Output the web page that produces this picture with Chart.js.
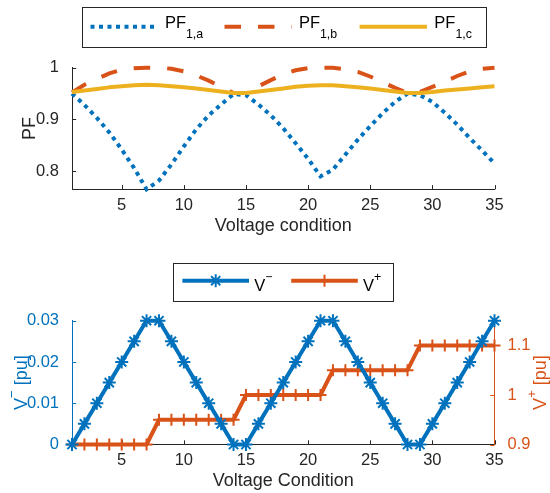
<!DOCTYPE html>
<html>
<head>
<meta charset="utf-8">
<script src="https://cdn.jsdelivr.net/npm/chart.js@4/dist/chart.umd.min.js"></script>
<style>
  body { margin: 0; background: #fff; }
  #wrap { position: relative; width: 550px; height: 493px; }
  #wrap canvas { position: absolute; left: 0; }
  #pfChart { top: 0; }
  #vChart { top: 250px; }
</style>
</head>
<body>
<div id="wrap">
  <canvas id="pfChart" width="550" height="250"></canvas>
  <canvas id="vChart" width="550" height="243"></canvas>
</div>
<script>
// voltage conditions 1..35
const conditions = [1, 2, 3, 4, 5, 6, 7, 8, 9, 10, 11, 12, 13, 14, 15, 16, 17, 18,
  19, 20, 21, 22, 23, 24, 25, 26, 27, 28, 29, 30, 31, 32, 33, 34, 35];

// power factor per phase
const pfA = [0.950, 0.928, 0.903, 0.875, 0.842, 0.806, 0.765, 0.782, 0.813, 0.848,
  0.881, 0.908, 0.929, 0.949, 0.947, 0.929, 0.908, 0.883, 0.854, 0.824, 0.790,
  0.803, 0.832, 0.861, 0.887, 0.912, 0.934, 0.950, 0.947, 0.934, 0.913, 0.890,
  0.864, 0.840, 0.815];
const pfB = [0.952, 0.967, 0.978, 0.989, 0.996, 0.999, 1.000, 1.000, 0.998, 0.993,
  0.985, 0.975, 0.963, 0.951, 0.951, 0.964, 0.976, 0.987, 0.995, 0.999, 1.000,
  1.000, 0.997, 0.992, 0.983, 0.972, 0.961, 0.951, 0.953, 0.963, 0.973, 0.984,
  0.993, 0.998, 1.000];
const pfC = [0.953, 0.956, 0.959, 0.962, 0.964, 0.966, 0.967, 0.966, 0.964, 0.962,
  0.960, 0.957, 0.954, 0.951, 0.951, 0.954, 0.957, 0.960, 0.963, 0.965, 0.966,
  0.966, 0.964, 0.962, 0.960, 0.957, 0.954, 0.951, 0.951, 0.953, 0.956, 0.958,
  0.960, 0.962, 0.964];

// negative / positive sequence voltage [pu]
const vNeg = [0, 0.005, 0.01, 0.015, 0.02, 0.025, 0.03, 0.03, 0.025, 0.02, 0.015,
  0.01, 0.005, 0, 0, 0.005, 0.01, 0.015, 0.02, 0.025, 0.03, 0.03, 0.025, 0.02,
  0.015, 0.01, 0.005, 0, 0, 0.005, 0.01, 0.015, 0.02, 0.025, 0.03];
const vPos = [0.9, 0.9, 0.9, 0.9, 0.9, 0.9, 0.9, 0.95, 0.95, 0.95, 0.95, 0.95, 0.95,
  0.95, 1.0, 1.0, 1.0, 1.0, 1.0, 1.0, 1.0, 1.05, 1.05, 1.05, 1.05, 1.05, 1.05, 1.05,
  1.1, 1.1, 1.1, 1.1, 1.1, 1.1, 1.1];

const xTicks = [5, 10, 15, 20, 25, 30, 35];
const pfTicks = [0.8, 0.9, 1];
const pfTickLabels = ['0.8', '0.9', '1'];
const vNegTicks = [0, 0.01, 0.02, 0.03];
const vNegTickLabels = ['0', '0.01', '0.02', '0.03'];
const vPosTicks = [0.9, 1, 1.1];
const vPosTickLabels = ['0.9', '1', '1.1'];

const FONT = "'Liberation Sans', Arial, Helvetica, sans-serif";
const AXIS = '#262626';
const BLUE = '#0072BD';
const ORANGE = '#D95319';
const YELLOW = '#EDB120';

Chart.defaults.font.family = FONT;

const pts = ys => conditions.map((c, i) => ({ x: c, y: ys[i] }));

// text with sub/superscript parts, centred on (x, y) unless align is 'left'
function richText(ctx, parts, x, y, o) {
  const big = o.size, small = o.size * 0.75;
  const fontOf = p => (p.sub || p.sup ? small : big) + 'px ' + FONT;
  const widths = parts.map(p => { ctx.font = fontOf(p); return ctx.measureText(p.t).width; });
  const total = widths.reduce((a, b) => a + b, 0);
  ctx.save();
  ctx.translate(x, y);
  if (o.rotate) ctx.rotate(o.rotate);
  ctx.fillStyle = o.color;
  ctx.textBaseline = 'alphabetic';
  ctx.textAlign = 'left';
  let cx = o.align === 'left' ? 0 : -total / 2;
  const base = o.baseline ? 0 : big * 0.36;
  parts.forEach((p, i) => {
    ctx.font = fontOf(p);
    const dy = p.sub ? big * 0.6 : p.sup ? -big * 0.6 : 0;
    ctx.fillText(p.t, cx, base + dy);
    cx += widths[i];
  });
  ctx.restore();
}

// MATLAB style tick marks pointing into the plot
const inwardTicks = {
  id: 'inwardTicks',
  beforeDatasetsDraw(chart) {
    const { ctx, chartArea: a } = chart;
    const len = 4.2;
    ctx.save();
    ctx.lineWidth = 1;
    Object.values(chart.scales).forEach(s => {
      ctx.strokeStyle = s.options.border.color;
      s.ticks.forEach(t => {
        const p = Math.round(s.getPixelForValue(t.value)) + 0.5;
        ctx.beginPath();
        if (s.isHorizontal()) {
          ctx.moveTo(p, a.bottom); ctx.lineTo(p, a.bottom - len);
        } else if (s.position === 'left') {
          ctx.moveTo(a.left, p); ctx.lineTo(a.left + len, p);
        } else {
          ctx.moveTo(a.right, p); ctx.lineTo(a.right - len, p);
        }
        ctx.stroke();
      });
    });
    ctx.restore();
  }
};

// framed legend with line samples taken from the datasets
const boxLegend = {
  id: 'boxLegend',
  afterDraw(chart, args, opts) {
    if (!opts.items) return;
    const ctx = chart.ctx;
    const [bx, by, bw, bh] = opts.box;
    ctx.save();
    ctx.fillStyle = '#fff';
    ctx.fillRect(bx, by, bw, bh);
    ctx.strokeStyle = AXIS;
    ctx.lineWidth = 1;
    ctx.strokeRect(Math.round(bx) + 0.5, Math.round(by) + 0.5, Math.round(bw), Math.round(bh));
    opts.items.forEach(it => {
      const ds = chart.data.datasets[it.ds];
      ctx.strokeStyle = ds.borderColor;
      ctx.lineWidth = ds.borderWidth;
      ctx.lineCap = ds.borderCapStyle || 'butt';
      ctx.setLineDash(ds.borderDash || []);
      ctx.beginPath();
      ctx.moveTo(it.x0, opts.lineY);
      ctx.lineTo(it.x1, opts.lineY);
      ctx.stroke();
      ctx.setLineDash([]);
      if (ds.pointStyle && ds.pointRadius) {
        ctx.lineWidth = ds.pointBorderWidth;
        ctx.fillStyle = ds.borderColor;
        Chart.helpers.drawPoint(ctx, {
          pointStyle: ds.pointStyle, radius: ds.pointRadius,
          borderWidth: ds.pointBorderWidth, rotation: 0
        }, (it.x0 + it.x1) / 2, opts.lineY);
      }
      richText(ctx, it.parts, it.tx, opts.baseline, { size: opts.size, color: '#000', align: 'left', baseline: true });
    });
    ctx.restore();
  }
};

// rotated y-axis titles with superscripts
const axisTitles = {
  id: 'axisTitles',
  afterDraw(chart, args, opts) {
    if (!opts.items) return;
    const a = chart.chartArea;
    opts.items.forEach(it => {
      richText(chart.ctx, it.parts, it.x, (a.top + a.bottom) / 2,
        { size: it.size, color: it.color, rotate: -Math.PI / 2 });
    });
  }
};

function xScale(title, height, titlePad) {
  return {
    type: 'linear', min: 1, max: 35,
    afterBuildTicks: s => { s.ticks = xTicks.map(v => ({ value: v })); },
    afterFit: s => { s.height = height; },
    grid: { display: false },
    border: { color: AXIS, width: 1 },
    ticks: { color: AXIS, font: { size: 16.5 }, padding: -2, maxRotation: 0, callback: v => String(v) },
    title: { display: true, text: title, color: AXIS, font: { size: 18 }, padding: { top: 0, bottom: titlePad } }
  };
}

function yScale(pos, min, max, ticks, labels, color, width) {
  return {
    type: 'linear', position: pos, min: min, max: max,
    afterBuildTicks: s => { s.ticks = ticks.map(v => ({ value: v })); },
    afterFit: s => { s.width = width; },
    grid: { display: false },
    border: { color: color, width: 1 },
    ticks: { color: color, font: { size: 16.5 }, padding: 5, callback: v => labels[ticks.indexOf(v)] }
  };
}

// top: power factor of the three phases
const pfY = yScale('left', 0.765, 1, pfTicks, pfTickLabels, AXIS, 72);
pfY.title = { display: true, text: 'PF', color: AXIS, font: { size: 18 }, padding: { top: 19, bottom: 0 } };

new Chart(document.getElementById('pfChart'), {
  type: 'line',
  data: {
    datasets: [
      { label: 'PF1,a', data: pts(pfA), borderColor: BLUE, borderWidth: 4, borderDash: [4, 4.5],
        borderCapStyle: 'butt', order: 3, clip: false },
      { label: 'PF1,b', data: pts(pfB), borderColor: ORANGE, borderWidth: 4, borderDash: [16.5, 17],
        borderCapStyle: 'butt', order: 2, clip: false },
      { label: 'PF1,c', data: pts(pfC), borderColor: YELLOW, borderWidth: 4,
        borderJoinStyle: 'round', order: 1, clip: false }
    ]
  },
  options: {
    responsive: false,
    animation: false,
    events: [],
    layout: { padding: { top: 67.7, right: 55.5, left: 0, bottom: 0 } },
    elements: { point: { radius: 0 }, line: { tension: 0 } },
    plugins: {
      legend: { display: false },
      tooltip: { enabled: false },
      boxLegend: {
        box: [81.7, 6.5, 403.5, 40],
        lineY: 26.7, baseline: 28, size: 16.5,
        items: [
          { ds: 0, x0: 90.5, x1: 157.9, tx: 164.9, parts: [{ t: 'PF' }, { t: '1,a', sub: true }] },
          { ds: 1, x0: 224.5, x1: 291.9, tx: 298.9, parts: [{ t: 'PF' }, { t: '1,b', sub: true }] },
          { ds: 2, x0: 359.6, x1: 426.9, tx: 434.3, parts: [{ t: 'PF' }, { t: '1,c', sub: true }] }
        ]
      }
    },
    scales: {
      x: xScale('Voltage condition', 60.7, 13.5),
      y: pfY
    }
  },
  plugins: [inwardTicks, boxLegend]
});

// bottom: sequence voltages on twin axes
new Chart(document.getElementById('vChart'), {
  type: 'line',
  data: {
    datasets: [
      { label: 'V-', data: pts(vNeg), yAxisID: 'y', borderColor: BLUE, borderWidth: 4,
        borderJoinStyle: 'round', pointStyle: 'star', pointRadius: 6.5, pointBorderWidth: 2,
        pointBorderColor: BLUE, pointBackgroundColor: BLUE, order: 1, clip: false },
      { label: 'V+', data: pts(vPos), yAxisID: 'y1', borderColor: ORANGE, borderWidth: 4,
        borderJoinStyle: 'round', pointStyle: 'cross', pointRadius: 6, pointBorderWidth: 2,
        pointBorderColor: ORANGE, pointBackgroundColor: ORANGE, order: 2, clip: false }
    ]
  },
  options: {
    responsive: false,
    animation: false,
    events: [],
    layout: { padding: { top: 70.7, right: 0, left: 0, bottom: 0 } },
    elements: { line: { tension: 0 } },
    plugins: {
      legend: { display: false },
      tooltip: { enabled: false },
      boxLegend: {
        box: [173, 12.7, 220, 38],
        lineY: 30.7, baseline: 40.5, size: 16.5,
        items: [
          { ds: 0, x0: 182.4, x1: 249, tx: 254.3, parts: [{ t: 'V' }, { t: '\u2212', sup: true }] },
          { ds: 1, x0: 291.2, x1: 357.8, tx: 363.1, parts: [{ t: 'V' }, { t: '+', sup: true }] }
        ]
      },
      axisTitles: {
        items: [
          { x: 20.3, size: 18, color: BLUE, parts: [{ t: 'V' }, { t: '\u2212', sup: true }, { t: ' [pu]' }] },
          { x: 540, size: 18, color: ORANGE, parts: [{ t: 'V' }, { t: '+', sup: true }, { t: ' [pu]' }] }
        ]
      }
    },
    scales: {
      x: xScale('Voltage Condition', 48.5, 1.4),
      y: yScale('left', 0, 0.03, vNegTicks, vNegTickLabels, BLUE, 72),
      y1: yScale('right', 0.9, 1.15, vPosTicks, vPosTickLabels, ORANGE, 55.5)
    }
  },
  plugins: [inwardTicks, boxLegend, axisTitles]
});
</script>
</body>
</html>
